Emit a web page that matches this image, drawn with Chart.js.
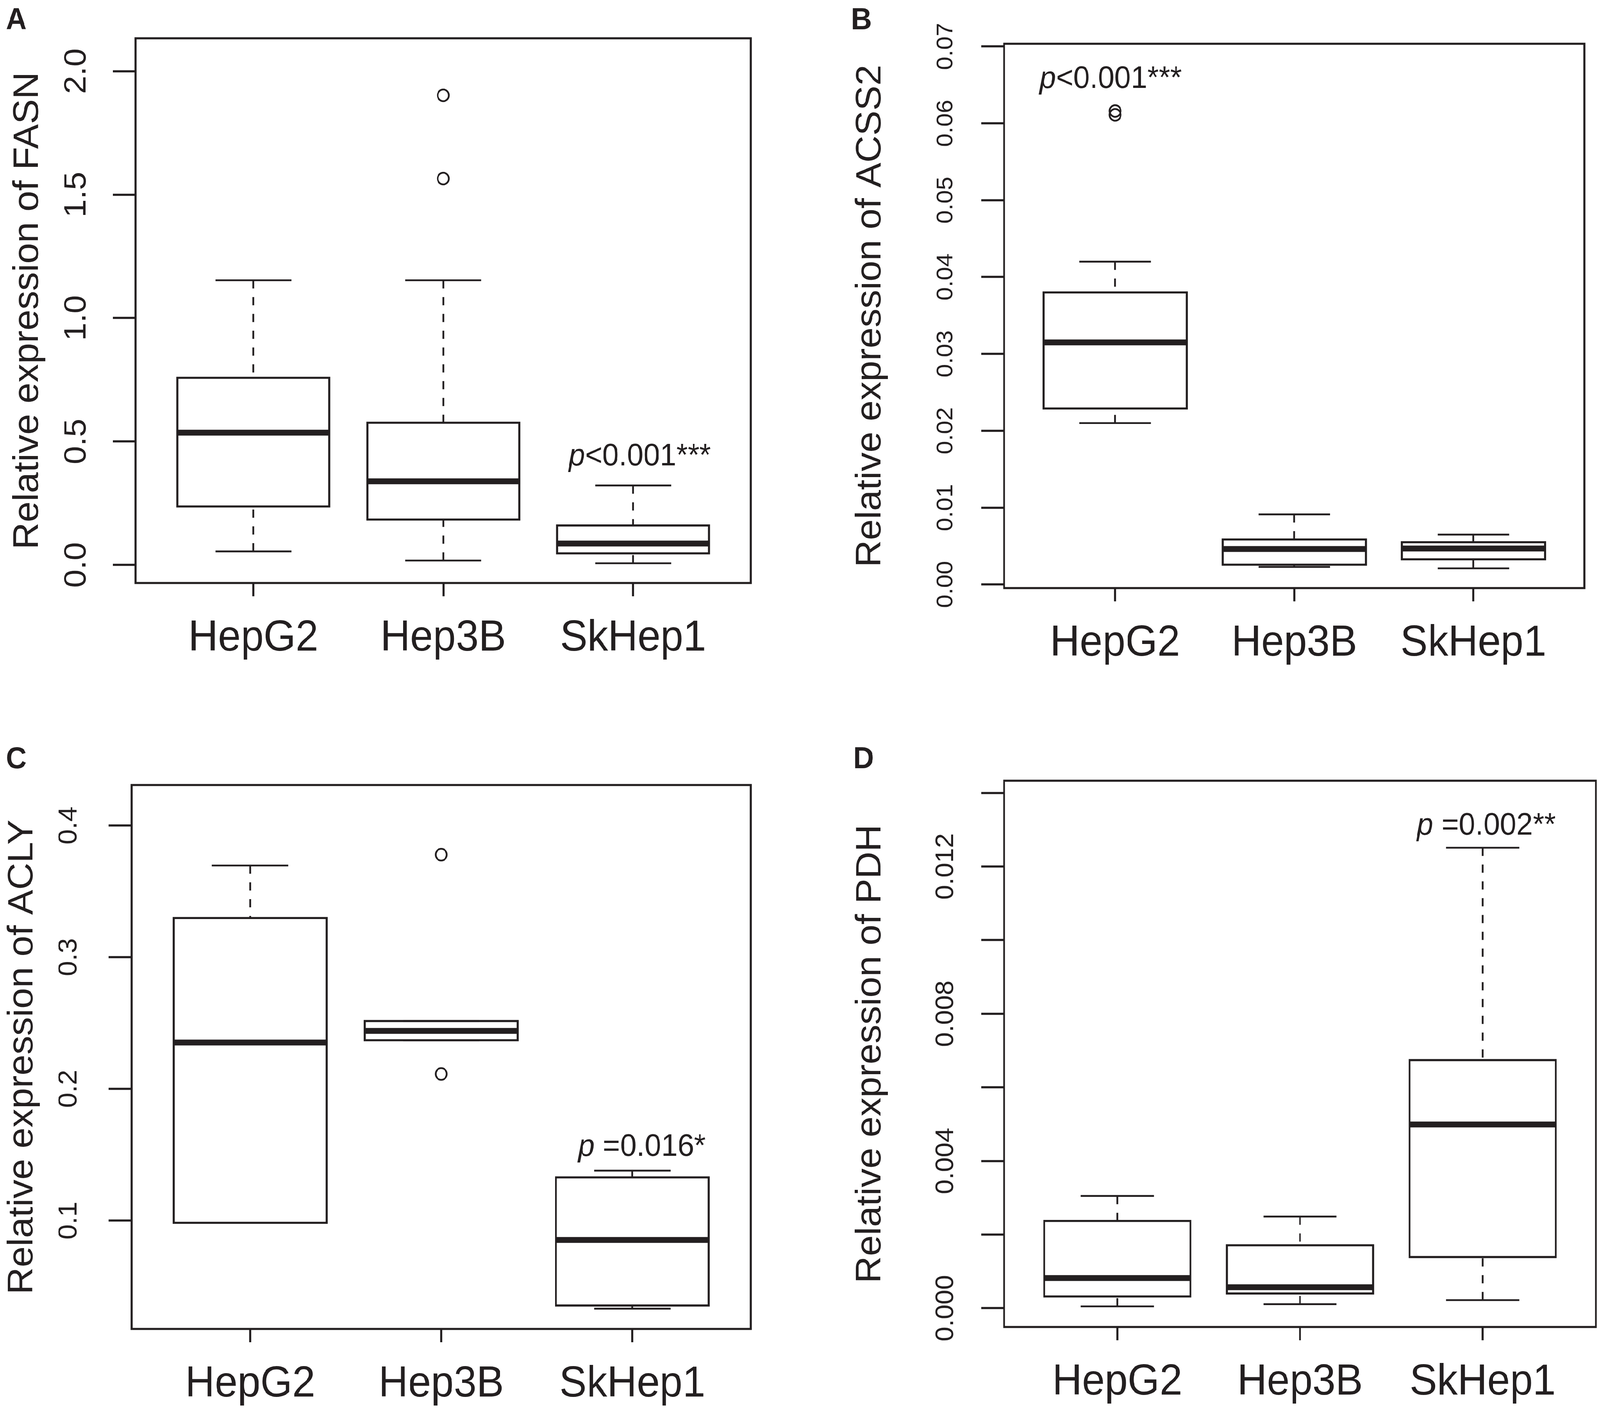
<!DOCTYPE html>
<html>
<head>
<meta charset="utf-8">
<title>Relative expression boxplots</title>
<script src="https://cdn.jsdelivr.net/npm/chart.js@4.4.1/dist/chart.umd.min.js"></script>
<style>
  html, body { margin: 0; padding: 0; background: #fff; overflow: hidden; }
  #page { position: absolute; left: 0; top: 0; width: 4328px; height: 3611px; overflow: hidden; transform-origin: 0 0; }
  #page canvas { position: absolute; }
</style>
</head>
<body>
<div id="page">
  <canvas id="cA" width="2164" height="1805" style="left:0;top:0"></canvas>
  <canvas id="cB" width="2164" height="1805" style="left:2164px;top:0"></canvas>
  <canvas id="cC" width="2164" height="1806" style="left:0;top:1805px"></canvas>
  <canvas id="cD" width="2164" height="1806" style="left:2164px;top:1805px"></canvas>
</div>
<script>
const groups = ["HepG2", "Hep3B", "SkHep1"];

// A - FASN
const fasnLow  = [0.055, 0.018, 0.007];
const fasnQ1   = [0.237, 0.184, 0.047];
const fasnMed  = [0.536, 0.339, 0.087];
const fasnQ3   = [0.758, 0.576, 0.160];
const fasnHigh = [1.153, 1.153, 0.322];
const fasnOut  = [[], [1.565, 1.902], []];
const fasnTicks = [0, 0.5, 1, 1.5, 2];
const fasnTickLabels = ["0.0", "0.5", "1.0", "1.5", "2.0"];

// B - ACSS2
const acssLow  = [0.0210, 0.00228, 0.0021];
const acssQ1   = [0.0229, 0.00257, 0.00327];
const acssMed  = [0.0315, 0.00462, 0.00468];
const acssQ3   = [0.0380, 0.00585, 0.0055];
const acssHigh = [0.0420, 0.00912, 0.00649];
const acssOut  = [[0.0611, 0.0616], [], []];
const acssTicks = [0, 0.01, 0.02, 0.03, 0.04, 0.05, 0.06, 0.07];
const acssTickLabels = ["0.00", "0.01", "0.02", "0.03", "0.04", "0.05", "0.06", "0.07"];

// C - ACLY
const aclyLow  = [0.0983, 0.2369, 0.0331];
const aclyQ1   = [0.0983, 0.2369, 0.0355];
const aclyMed  = [0.2352, 0.2440, 0.0853];
const aclyQ3   = [0.3297, 0.2515, 0.1328];
const aclyHigh = [0.3696, 0.2515, 0.1379];
const aclyOut  = [[], [0.2113, 0.3778], []];
const aclyTicks = [0.1, 0.2, 0.3, 0.4];
const aclyTickLabels = ["0.1", "0.2", "0.3", "0.4"];

// D - PDH
const pdhLow  = [0.00005, 0.00011, 0.00022];
const pdhQ1   = [0.00032, 0.00040, 0.00139];
const pdhMed  = [0.00082, 0.00057, 0.00499];
const pdhQ3   = [0.00237, 0.00171, 0.00674];
const pdhHigh = [0.00305, 0.00249, 0.01251];
const pdhOut  = [[], [], []];
const pdhTicks = [0, 0.002, 0.004, 0.006, 0.008, 0.010, 0.012, 0.014];
const pdhTickLabels = ["0.000", "", "0.004", "", "0.008", "", "0.012", ""];

const ink = "#231f20";
const fontFam = '"Liberation Sans", Arial, Helvetica, sans-serif';
const yTickLen = 62;
const lineW = 5.3;
const boxHalf = 0.4;     // boxwex 0.8
const stapleHalf = 0.2;  // staplewex 0.5

// if the window is smaller than the figure, shrink the whole page to fit it
const fitX = Math.min(1, window.innerWidth / 4328 || 1);
const fitY = Math.min(1, window.innerHeight / 3611 || 1);
if (fitX < 1 || fitY < 1) {
  document.getElementById("page").style.transform = "scale(" + fitX + "," + fitY + ")";
}

const measureCtx = document.createElement("canvas").getContext("2d");

// padding so the rotated tick labels sit centred at a given distance from the axis
function labelPad(labels, size, gap) {
  measureCtx.font = size + "px " + fontFam;
  const widest = Math.max(...labels.map(l => measureCtx.measureText(l).width));
  return gap - yTickLen - widest / 2;
}

// builds the line/point datasets for one set of boxplots
function boxDatasets(low, q1, med, q3, high, out) {
  const gap = { x: NaN, y: NaN };
  const box = [], mid = [], whisk = [], staple = [], pts = [];
  groups.forEach((g, i) => {
    const x = i + 1;
    box.push({ x: x - boxHalf, y: q1[i] }, { x: x + boxHalf, y: q1[i] },
             { x: x + boxHalf, y: q3[i] }, { x: x - boxHalf, y: q3[i] },
             { x: x - boxHalf, y: q1[i] }, gap);
    mid.push({ x: x - boxHalf, y: med[i] }, { x: x + boxHalf, y: med[i] }, gap);
    whisk.push({ x: x, y: high[i] }, { x: x, y: q3[i] }, gap,
               { x: x, y: low[i] }, { x: x, y: q1[i] }, gap);
    staple.push({ x: x - stapleHalf, y: high[i] }, { x: x + stapleHalf, y: high[i] }, gap,
                { x: x - stapleHalf, y: low[i] }, { x: x + stapleHalf, y: low[i] }, gap);
    out[i].forEach(v => pts.push({ x: x, y: v }));
  });
  const line = { showLine: true, pointRadius: 0, borderColor: ink, tension: 0, spanGaps: false, fill: false };
  return [
    Object.assign({ label: "whisker", data: whisk, borderWidth: 4.6, borderDash: [21, 22] }, line),
    Object.assign({ label: "box", data: box, borderWidth: lineW, borderCapStyle: "square", borderJoinStyle: "miter" }, line),
    Object.assign({ label: "median", data: mid, borderWidth: 15, borderCapStyle: "butt" }, line),
    Object.assign({ label: "staple", data: staple, borderWidth: 4.6 }, line),
    { label: "outlier", data: pts, showLine: false, pointRadius: 15, pointBorderWidth: 4.6,
      pointBorderColor: ink, pointBackgroundColor: "rgba(0,0,0,0)", pointStyle: "circle" }
  ];
}

// frame round the plot region, panel letter and p value
const decor = {
  id: "decor",
  afterDraw(chart, args, opts) {
    const { ctx, chartArea: a, scales } = chart;
    ctx.save();
    ctx.strokeStyle = ink;
    ctx.lineWidth = lineW;
    ctx.lineJoin = "miter";
    ctx.strokeRect(a.left, a.top, a.right - a.left, a.bottom - a.top);

    ctx.fillStyle = ink;
    ctx.textBaseline = "alphabetic";
    ctx.textAlign = "left";
    ctx.font = "bold 78px " + fontFam;
    ctx.fillText(opts.letter, opts.letterX, opts.letterY);

    const px = scales.x.getPixelForValue(opts.pAt[0]);
    const py = scales.y.getPixelForValue(opts.pAt[1]);
    ctx.font = "italic 80px " + fontFam;
    const w1 = ctx.measureText(opts.pText[0]).width;
    ctx.font = "80px " + fontFam;
    const w2 = ctx.measureText(opts.pText[1]).width;
    const sx = px - (w1 + w2) / 2;
    ctx.font = "italic 80px " + fontFam;
    ctx.fillText(opts.pText[0], sx, py);
    ctx.font = "80px " + fontFam;
    ctx.fillText(opts.pText[1], sx + w1, py);
    ctx.restore();
  }
};

const panels = [
  { id: "cA", letter: "A", letterX: 16, letterY: 75, title: "Relative expression of FASN",
    stats: [fasnLow, fasnQ1, fasnMed, fasnQ3, fasnHigh, fasnOut],
    ticks: fasnTicks, labels: fasnTickLabels, tickSize: 84, yMin: -0.073, yMax: 2.133,
    pText: ["p", "<0.001***"], pAt: [3.035, 0.404],
    top: 98, right: 133, yWidth: 367, xHeight: 313, labelGap: 159, titlePad: 19 },
  { id: "cB", letter: "B", letterX: 138, letterY: 75, title: "Relative expression of ACSS2",
    stats: [acssLow, acssQ1, acssMed, acssQ3, acssHigh, acssOut],
    ticks: acssTicks, labels: acssTickLabels, tickSize: 62, yMin: -0.00047, yMax: 0.07035,
    pText: ["p", "<0.001***"], pAt: [0.975, 0.0646],
    top: 112, right: 42, yWidth: 552, xHeight: 300, labelGap: 157, titlePad: 134 },
  { id: "cC", letter: "C", letterX: 16, letterY: 161, title: "Relative expression of ACLY",
    stats: [aclyLow, aclyQ1, aclyMed, aclyQ3, aclyHigh, aclyOut],
    ticks: aclyTicks, labels: aclyTickLabels, tickSize: 70, yMin: 0.0177, yMax: 0.4307,
    pText: ["p", " =0.016*"], pAt: [3.05, 0.149],
    top: 204, right: 133, yWidth: 356, xHeight: 210, labelGap: 168, titlePad: 4 },
  { id: "cD", letter: "D", letterX: 144, letterY: 161, title: "Relative expression of PDH",
    stats: [pdhLow, pdhQ1, pdhMed, pdhQ3, pdhHigh, pdhOut],
    ticks: pdhTicks, labels: pdhTickLabels, tickSize: 68, yMin: -0.00051, yMax: 0.01433,
    pText: ["p", " =0.002**"], pAt: [3.02, 0.01286],
    top: 193, right: 11, yWidth: 552, xHeight: 215, labelGap: 157, titlePad: 134 }
];

panels.forEach(p => {
  new Chart(document.getElementById(p.id), {
    type: "scatter",
    data: { datasets: boxDatasets(...p.stats) },
    plugins: [decor],
    options: {
      responsive: false,
      devicePixelRatio: 1,
      animation: false,
      events: [],
      layout: { padding: { left: 0, top: p.top, right: p.right, bottom: 0 } },
      plugins: {
        legend: { display: false },
        tooltip: { enabled: false },
        decor: { letter: p.letter, letterX: p.letterX, letterY: p.letterY, pText: p.pText, pAt: p.pAt }
      },
      scales: {
        x: {
          type: "linear",
          min: 0.38,
          max: 3.62,
          afterBuildTicks: s => { s.ticks = groups.map((g, i) => ({ value: i + 1 })); },
          afterFit: s => { s.height = p.xHeight; },
          ticks: {
            callback: (v, i) => groups[i],
            autoSkip: false,
            maxRotation: 0,
            color: ink,
            padding: 42,
            font: { family: fontFam, size: 111 }
          },
          grid: { drawOnChartArea: false, tickLength: 34, tickWidth: lineW, tickColor: ink },
          border: { display: false }
        },
        y: {
          type: "linear",
          min: p.yMin,
          max: p.yMax,
          afterBuildTicks: s => { s.ticks = p.ticks.map(v => ({ value: v })); },
          afterFit: s => { s.width = p.yWidth; },
          ticks: {
            callback: (v, i) => p.labels[i],
            autoSkip: false,
            minRotation: 90,
            maxRotation: 90,
            crossAlign: "center",
            padding: labelPad(p.labels, p.tickSize, p.labelGap),
            color: ink,
            font: { family: fontFam, size: p.tickSize }
          },
          grid: { drawOnChartArea: false, tickLength: yTickLen, tickWidth: lineW, tickColor: ink },
          border: { display: false },
          title: {
            display: true,
            text: p.title,
            color: ink,
            padding: { top: p.titlePad, bottom: 0 },
            font: { family: fontFam, size: 96 }
          }
        }
      }
    }
  });
});
</script>
</body>
</html>
